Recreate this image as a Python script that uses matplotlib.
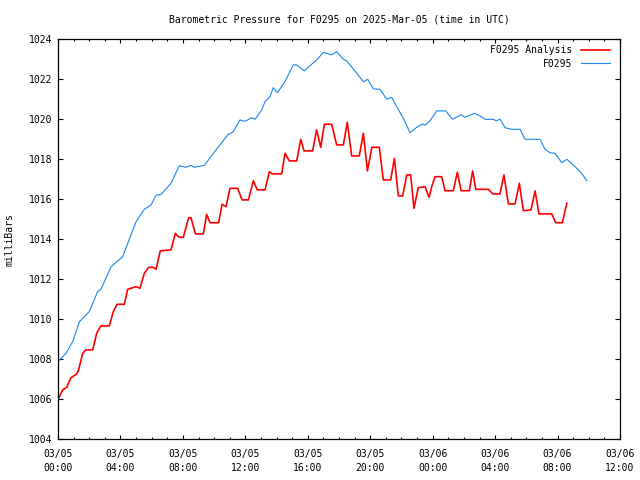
import matplotlib
matplotlib.use("Agg")
import matplotlib.pyplot as plt
from matplotlib.ticker import MultipleLocator, FixedLocator

# ---- data (hours since 2025-03-05 00:00 UTC, pressure in mbar) ----
obs_hours = [0.0, 0.51, 0.94, 1.37, 2.0, 2.54, 2.75, 3.4, 4.14, 5.0, 5.53, 5.96, 6.28, 6.6,
             7.24, 7.77, 8.2, 8.52, 8.73, 9.37, 9.8, 10.12, 10.9, 11.2, 11.66, 11.98, 12.41,
             12.62, 13.05, 13.26, 13.58, 13.79, 14.05, 14.54, 15.07, 15.29, 15.78, 16.14,
             16.57, 17.0, 17.53, 17.85, 18.28, 18.5, 19.14, 19.56, 19.84, 20.2, 20.63, 21.06,
             21.38, 21.7, 22.12, 22.55, 22.98, 23.36, 23.51, 23.83, 24.26, 24.84, 25.26,
             25.82, 26.07, 26.67, 27.03, 27.35, 27.89, 28.06, 28.31, 28.64, 29.06, 29.6,
             29.92, 30.3, 30.88, 31.2, 31.52, 31.84, 32.27, 32.59, 33.01, 33.55, 33.87]
obs_mbar = [1007.88, 1008.3, 1008.88, 1009.88, 1010.38, 1011.38, 1011.5, 1012.63, 1013.13,
            1014.88, 1015.5, 1015.72, 1016.2, 1016.25, 1016.8, 1017.68, 1017.6, 1017.7,
            1017.6, 1017.7, 1018.13, 1018.47, 1019.25, 1019.35, 1019.97, 1019.9, 1020.08,
            1020.0, 1020.47, 1020.88, 1021.13, 1021.58, 1021.33, 1021.88, 1022.72, 1022.72,
            1022.42, 1022.68, 1022.97, 1023.35, 1023.22, 1023.38, 1023.0, 1022.92, 1022.3,
            1021.88, 1022.0, 1021.52, 1021.5, 1021.0, 1021.1, 1020.63, 1020.05, 1019.33,
            1019.6, 1019.77, 1019.7, 1019.93, 1020.42, 1020.42, 1020.0, 1020.22, 1020.1,
            1020.3, 1020.17, 1020.0, 1020.0, 1019.92, 1020.0, 1019.58, 1019.5, 1019.5,
            1019.0, 1019.0, 1019.0, 1018.5, 1018.33, 1018.3, 1017.83, 1018.0, 1017.72,
            1017.3, 1016.93]

ana_hours = [0.0, 0.3, 0.56, 0.83, 1.2, 1.32, 1.58, 1.79, 2.22, 2.48, 2.75, 3.29, 3.54, 3.78,
             4.25, 4.46, 5.0, 5.25, 5.53, 5.81, 6.11, 6.28, 6.55, 7.24, 7.51, 7.77, 8.03, 8.37,
             8.52, 8.8, 9.31, 9.52, 9.74, 10.29, 10.51, 10.76, 11.02, 11.51, 11.79, 12.2,
             12.51, 12.77, 13.26, 13.54, 13.73, 14.33, 14.54, 14.82, 15.29, 15.55, 15.76,
             16.31, 16.57, 16.83, 17.06, 17.53, 17.85, 18.28, 18.53, 18.81, 19.3, 19.56,
             19.82, 20.1, 20.58, 20.84, 21.31, 21.55, 21.8, 22.08, 22.34, 22.59, 22.8, 23.08,
             23.51, 23.77, 23.94, 24.15, 24.58, 24.79, 25.32, 25.58, 25.82, 26.35, 26.56,
             26.76, 27.57, 27.85, 28.31, 28.57, 28.85, 29.28, 29.55, 29.81, 30.3, 30.56,
             30.81, 31.63, 31.88, 32.31, 32.59]
ana_mbar = [1006.0, 1006.47, 1006.6, 1007.08, 1007.27, 1007.47, 1008.3, 1008.47, 1008.47,
            1009.3, 1009.67, 1009.67, 1010.38, 1010.75, 1010.75, 1011.5, 1011.63, 1011.55,
            1012.3, 1012.6, 1012.6, 1012.5, 1013.42, 1013.47, 1014.3, 1014.1, 1014.1,
            1015.08, 1015.08, 1014.27, 1014.27, 1015.25, 1014.83, 1014.83, 1015.75, 1015.63,
            1016.55, 1016.55, 1015.97, 1015.97, 1016.93, 1016.47, 1016.47, 1017.38, 1017.27,
            1017.27, 1018.3, 1017.92, 1017.92, 1019.0, 1018.42, 1018.42, 1019.47, 1018.6,
            1019.75, 1019.75, 1018.72, 1018.72, 1019.85, 1018.17, 1018.17, 1019.3, 1017.42,
            1018.6, 1018.6, 1016.97, 1016.97, 1018.05, 1016.17, 1016.17, 1017.22, 1017.22,
            1015.55, 1016.58, 1016.63, 1016.1, 1016.63, 1017.13, 1017.13, 1016.43, 1016.43,
            1017.35, 1016.43, 1016.43, 1017.42, 1016.5, 1016.5, 1016.27, 1016.27, 1017.22,
            1015.77, 1015.77, 1016.8, 1015.43, 1015.47, 1016.42, 1015.27, 1015.27, 1014.83,
            1014.83, 1015.8]

xtick_hours = [0, 4, 8, 12, 16, 20, 24, 28, 32, 36]
xtick_labels = ["03/05\n00:00", "03/05\n04:00", "03/05\n08:00", "03/05\n12:00",
                "03/05\n16:00", "03/05\n20:00", "03/06\n00:00", "03/06\n04:00",
                "03/06\n08:00", "03/06\n12:00"]
ytick_values = [1004, 1006, 1008, 1010, 1012, 1014, 1016, 1018, 1020, 1022, 1024]

title = "Barometric Pressure for F0295 on 2025-Mar-05 (time in UTC)"
ylabel = "milliBars"

# ---- figure ----
FONT = "DejaVu Sans Mono"
FS = 7.0
plt.rcParams["font.family"] = FONT

fig = plt.figure(figsize=(6.4, 4.8), dpi=100)
ax = fig.add_axes([58 / 640, 1 - 439.3 / 480, 562 / 640, 400 / 480])

ax.plot(ana_hours, ana_mbar, color="#ff0000", lw=1.2, label="F0295 Analysis")
ax.plot(obs_hours, obs_mbar, color="#1a86f0", lw=0.8, label="F0295")

ax.set_xlim(0, 36)
ax.set_ylim(1004, 1024)
ax.xaxis.set_major_locator(FixedLocator(xtick_hours))
ax.set_xticklabels(xtick_labels, fontsize=FS, linespacing=1.45)
ax.xaxis.set_minor_locator(MultipleLocator(1))
ax.set_yticks(ytick_values)
ax.set_yticklabels([str(v) for v in ytick_values], fontsize=FS)

ax.tick_params(which="both", direction="in", top=True, right=True, color="black", width=0.8)
ax.tick_params(axis="y", which="major", length=3.6, pad=4)
ax.tick_params(axis="x", which="major", length=3.2, pad=7)
ax.tick_params(axis="x", which="minor", length=1.6)
for s in ax.spines.values():
    s.set_linewidth(0.9)
    s.set_color("black")

fig.text(339 / 640, 1 - 19 / 480, title, ha="center", va="center", fontsize=FS)
fig.text(10 / 640, 1 - 240 / 480, ylabel, ha="center", va="center", rotation=90, fontsize=FS)

leg = ax.legend(loc="upper right", bbox_to_anchor=(1 - 10 / 562, 1 - 6 / 400), frameon=False,
                markerfirst=False, fontsize=FS, handlelength=3.0, handletextpad=0.9,
                labelspacing=0.35, borderaxespad=0, borderpad=0)

fig.savefig("out.png", dpi=100)
